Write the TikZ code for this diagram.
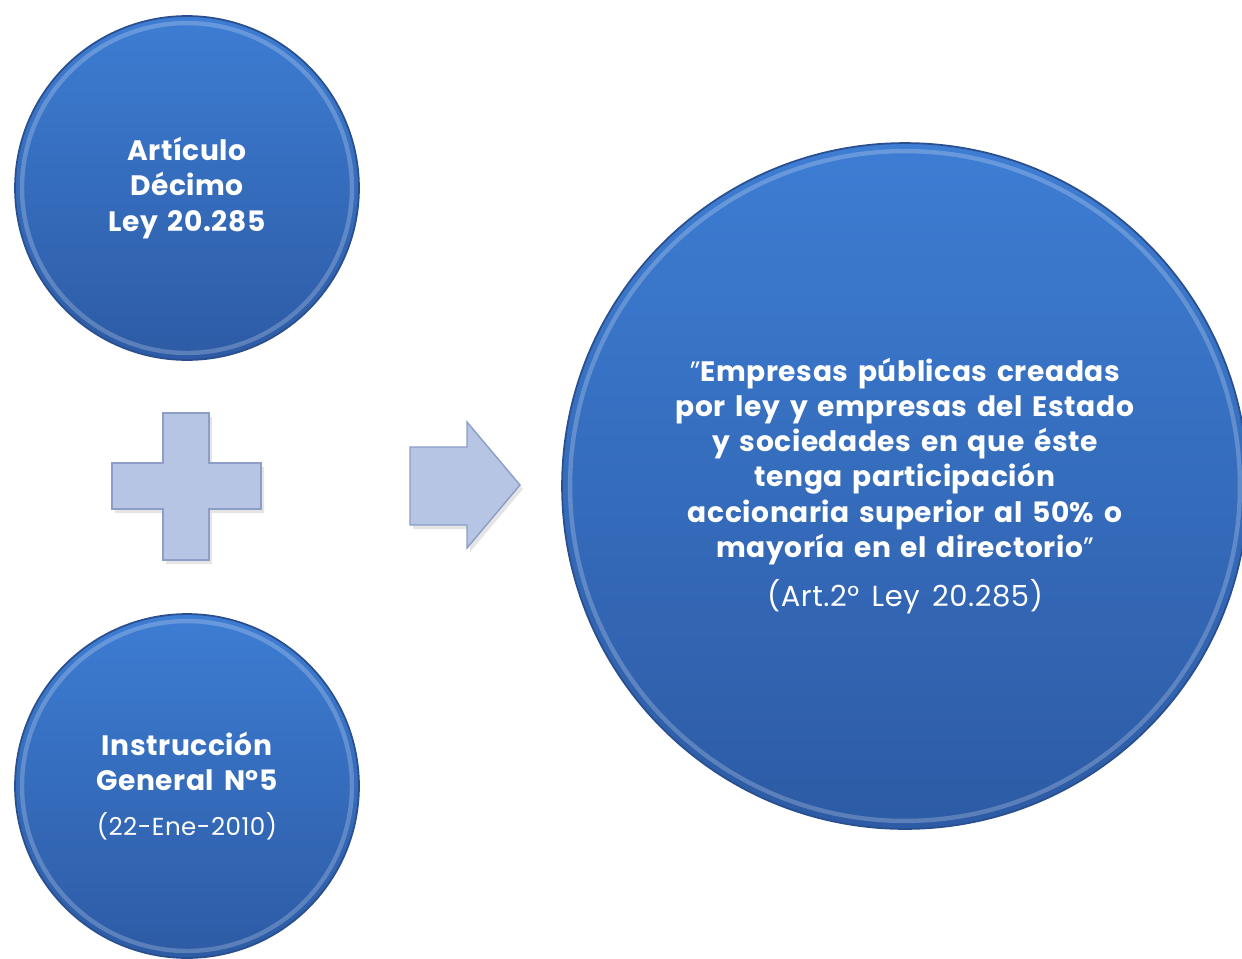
\documentclass[tikz,border=0pt]{standalone}
\usepackage{fontspec}
\setmainfont{Poppins}[LetterSpace=2, WordSpace=1.5]
\usepackage{xcolor}
\usepackage{tikz}
\usetikzlibrary{calc}

\definecolor{bolaArriba}{HTML}{3D7DD3}
\definecolor{bolaAbajo}{HTML}{2D5BA5}
\definecolor{bolaBorde}{HTML}{2A4F8E}
\definecolor{signoFondo}{HTML}{B5C5E3}
\definecolor{signoBorde}{HTML}{8C9DC6}

\tikzset{
  bola/.style={circle, minimum size=#1, inner sep=0pt, top color=bolaArriba,
    bottom color=bolaAbajo, draw=bolaBorde, line width=1pt, text=white,
    align=center, font=\bfseries\fontsize{16}{20}\selectfont},
  brillo/.style={white, opacity=0.22, line width=2.5pt},
  signo/.style={fill=signoFondo, draw=signoBorde, line width=0.8pt, line join=miter},
  sombra/.style={fill=black, opacity=0.10},
}

\begin{document}
\begin{tikzpicture}[x=0.02cm, y=-0.02cm]
    \useasboundingbox (0,0) rectangle (1242,958);

    % circulos
    \node[bola=6.88cm] (articulo) at (187,188)
        {Artículo\\Décimo\\Ley 20.285};
    \node[bola=6.88cm] (instruccion) at (187,786)
        {Instrucción\\General N°5\\[6pt]{\mdseries\fontsize{14}{20}\selectfont(22-Ene-2010)}};
    \node[bola=13.72cm] (empresas) at (905,486)
        {{\mdseries"}Empresas públicas creadas\\por ley y empresas del Estado\\y sociedades en que éste\\tenga participación\\accionaria superior al 50\% o\\mayoría en el directorio{\mdseries"}\\[8pt]{\mdseries\fontsize{16.5}{20}\selectfont(Art.2° Ley 20.285)}};

    \draw[brillo] (articulo.center) circle[radius=3.3cm];
    \draw[brillo] (instruccion.center) circle[radius=3.3cm];
    \draw[brillo] (empresas.center) circle[radius=6.7cm];

    % signo mas
    \fill[sombra, shift={(3,4)}] (163,413) -- (209,413) -- (209,463) -- (261,463) -- (261,509) -- (209,509)
        -- (209,560) -- (163,560) -- (163,509) -- (112,509) -- (112,463) -- (163,463) -- cycle;
    \draw[signo] (163,413) -- (209,413) -- (209,463) -- (261,463) -- (261,509) -- (209,509)
        -- (209,560) -- (163,560) -- (163,509) -- (112,509) -- (112,463) -- (163,463) -- cycle;

    % flecha
    \fill[sombra, shift={(3,4)}] (410,447) -- (467,447) -- (467,422) -- (520,485) -- (467,548)
        -- (467,525) -- (410,525) -- cycle;
    \draw[signo] (410,447) -- (467,447) -- (467,422) -- (520,485) -- (467,548)
        -- (467,525) -- (410,525) -- cycle;
\end{tikzpicture}
\end{document}
